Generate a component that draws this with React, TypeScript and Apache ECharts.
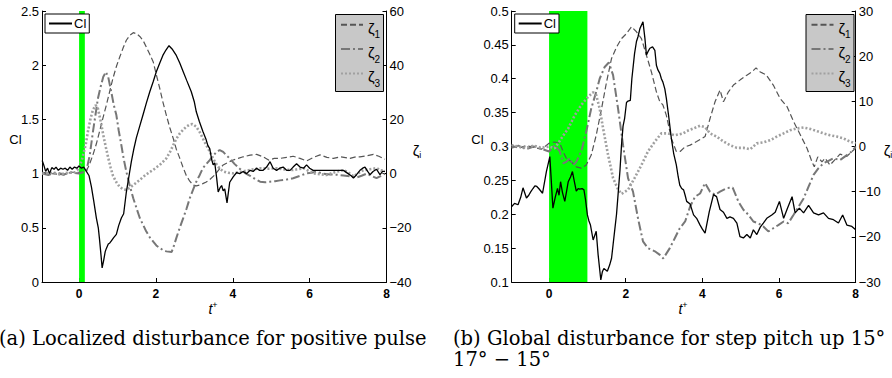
import React, { useEffect, useRef } from "react";
import * as echarts from "echarts";

// ---------- data: panel (a) ----------
const leftCl: number[][] = [[-0.96,1.12],[-0.92,1.08],[-0.87,1.02],[-0.82,1.05],[-0.77,1.0],[-0.71,1.055],[-0.65,1.04],[-0.6,1.06],[-0.54,1.03],[-0.48,1.05],[-0.42,1.04],[-0.36,1.05],[-0.3,1.03],[-0.24,1.06],[-0.18,1.04],[-0.12,1.06],[-0.06,1.05],[0.0,1.07],[0.06,1.05],[0.12,1.06],[0.19,1.02],[0.26,0.98],[0.32,0.88],[0.38,0.75],[0.45,0.59],[0.5,0.5],[0.53,0.40],[0.57,0.25],[0.6,0.13],[0.64,0.2],[0.68,0.28],[0.71,0.31],[0.76,0.35],[0.8,0.36],[0.84,0.38],[0.9,0.41],[0.97,0.44],[1.03,0.52],[1.1,0.59],[1.16,0.63],[1.23,0.83],[1.3,0.98],[1.36,1.11],[1.42,1.22],[1.49,1.33],[1.58,1.44],[1.67,1.55],[1.75,1.65],[1.84,1.755],[1.93,1.85],[2.01,1.94],[2.1,2.02],[2.18,2.09],[2.26,2.14],[2.34,2.18],[2.42,2.15],[2.53,2.09],[2.62,2.02],[2.71,1.94],[2.8,1.86],[2.92,1.755],[3.0,1.66],[3.05,1.57],[3.13,1.48],[3.22,1.39],[3.3,1.32],[3.35,1.26],[3.4,1.23],[3.45,1.13],[3.49,1.08],[3.53,1.1],[3.58,0.96],[3.62,0.83],[3.67,0.87],[3.71,0.89],[3.75,0.84],[3.79,0.86],[3.85,0.73],[3.92,0.92],[4.01,0.97],[4.1,1.01],[4.18,1.0],[4.27,1.02],[4.36,1.0],[4.45,1.03],[4.53,1.02],[4.62,1.05],[4.7,1.03],[4.79,1.03],[4.88,1.06],[4.97,1.11],[5.05,1.05],[5.14,1.03],[5.22,1.05],[5.31,1.06],[5.4,1.03],[5.49,1.03],[5.57,1.06],[5.66,1.09],[5.75,1.06],[5.84,1.05],[5.92,1.08],[6.0,1.05],[6.09,1.03],[6.18,1.03],[6.27,1.03],[6.4,1.03],[6.53,1.03],[6.7,1.03],[6.88,1.03],[7.0,1.0],[7.08,0.98],[7.14,0.96],[7.22,0.99],[7.31,1.03],[7.38,1.05],[7.44,1.06],[7.51,1.02],[7.57,0.99],[7.65,1.02],[7.74,1.04],[7.83,0.99],[7.9,1.02],[7.96,1.02]];
const leftZ1: number[][] = [[-0.96,0.5],[-0.7,0],[-0.4,-0.5],[-0.2,0.5],[0,0.5],[0.17,0.5],[0.26,3],[0.36,6.9],[0.45,11],[0.53,15.4],[0.62,20.5],[0.71,25.3],[0.8,30.5],[0.88,35.1],[0.97,39.5],[1.06,43.1],[1.15,46.5],[1.23,49.2],[1.32,51],[1.41,52],[1.5,51.6],[1.58,50.6],[1.67,49],[1.75,46.7],[1.84,44],[1.93,41.2],[2.01,36.5],[2.1,31.4],[2.18,26.5],[2.27,21.6],[2.36,17],[2.45,13],[2.53,9],[2.62,5.7],[2.7,2.5],[2.79,-0.7],[2.88,-2.8],[2.97,-4.2],[3.05,-4.5],[3.14,-4.2],[3.22,-3.7],[3.31,-3.1],[3.4,-2.2],[3.53,-0.5],[3.64,1.5],[3.75,3.2],[3.88,4.2],[4.01,5.0],[4.14,5.6],[4.27,6.2],[4.45,6.8],[4.62,7.1],[4.79,6.2],[4.93,5.0],[5.08,5.6],[5.23,5.6],[5.4,6.0],[5.57,6.4],[5.75,5.6],[5.92,4.7],[6.1,6.0],[6.27,6.9],[6.45,6.0],[6.62,5.6],[6.8,6.2],[7.05,5.6],[7.2,6.2],[7.31,6.2],[7.5,6.6],[7.66,7.1],[7.8,6.4],[7.96,5.3]];
const leftZ2: number[][] = [[-0.96,0],[-0.8,-0.5],[-0.6,0.5],[-0.4,-0.3],[-0.2,0.4],[0,0],[0.1,0.5],[0.19,1],[0.28,7],[0.36,15.4],[0.43,22],[0.49,27.7],[0.56,32],[0.63,35.7],[0.7,37.5],[0.76,35.5],[0.84,30],[0.9,25.5],[0.97,21.6],[1.03,16],[1.1,10.5],[1.16,5.5],[1.23,0.7],[1.32,-4.5],[1.41,-9.1],[1.5,-13],[1.58,-16.4],[1.67,-19],[1.75,-21.4],[1.84,-23.5],[1.93,-25.1],[2.01,-26.5],[2.1,-27.5],[2.18,-28.2],[2.27,-28.7],[2.41,-28.9],[2.47,-26.5],[2.53,-23.8],[2.62,-20],[2.71,-16.4],[2.8,-12.8],[2.88,-9.1],[2.97,-5.8],[3.05,-3.0],[3.14,-0.5],[3.22,2.0],[3.31,3.5],[3.4,5.0],[3.5,6.8],[3.58,8],[3.66,8.7],[3.75,8.0],[3.83,6.8],[3.92,5.6],[4.05,3.5],[4.18,1.8],[4.32,0.2],[4.45,-0.8],[4.58,-2.0],[4.71,-3.0],[4.84,-3.2],[4.97,-3.0],[5.1,-2.8],[5.23,-2.5],[5.4,-2.2],[5.57,-1.7],[5.75,-0.8],[5.92,0.1],[6.05,0.3],[6.18,0.7],[6.35,0],[6.53,-0.3],[6.7,-0.4],[6.88,-0.7],[7.05,-1.0],[7.23,-1.4],[7.35,-0.8],[7.49,0],[7.6,-0.8],[7.74,-1.7],[7.86,-0.8],[7.96,0]];
const leftZ3: number[][] = [[-0.96,0],[-0.7,0.3],[-0.5,-0.3],[-0.3,0.3],[-0.1,0.5],[0,2],[0.08,5.5],[0.17,10.5],[0.23,15.5],[0.3,20.4],[0.36,23.5],[0.43,25.3],[0.49,24],[0.56,19.5],[0.63,14.2],[0.7,9.5],[0.76,5.7],[0.82,2.3],[0.88,-0.7],[0.97,-3.2],[1.06,-5.0],[1.15,-5.8],[1.23,-6.0],[1.32,-5.2],[1.41,-4.2],[1.5,-3.2],[1.58,-2.3],[1.67,-1.2],[1.75,-0.3],[1.84,0.6],[1.93,1.4],[2.01,2.3],[2.1,3.2],[2.18,4.3],[2.27,5.6],[2.36,7.8],[2.45,10.5],[2.53,12.8],[2.62,14.8],[2.71,16.2],[2.79,17.3],[2.88,18.1],[2.95,18.3],[3.05,17.3],[3.14,15.3],[3.22,13],[3.31,10.5],[3.4,8.1],[3.48,5.8],[3.55,4.0],[3.65,2.0],[3.75,0.8],[3.88,0.3],[4.01,0.1],[4.15,0.5],[4.27,0.8],[4.5,1.5],[4.71,2.0],[4.95,1.8],[5.14,2.0],[5.35,1.5],[5.57,1.3],[5.84,2.0],[6.09,0.1],[6.27,-0.2],[6.44,-0.5],[6.65,0.5],[6.88,1.3],[7.0,0.5],[7.14,-1.0],[7.25,0],[7.4,1.3],[7.57,1.6],[7.74,2.0],[7.85,1.2],[7.96,1.0]];
const leftBand: number[] = [0, 0.15];

// ---------- data: panel (b) ----------
const rightCl: number[][] = [[-0.98,0.211],[-0.9,0.216],[-0.81,0.214],[-0.74,0.225],[-0.68,0.239],[-0.59,0.224],[-0.53,0.228],[-0.48,0.233],[-0.42,0.238],[-0.37,0.242],[-0.32,0.241],[-0.27,0.238],[-0.17,0.231],[-0.07,0.263],[0.02,0.285],[0.1,0.209],[0.16,0.225],[0.22,0.238],[0.26,0.228],[0.3,0.248],[0.35,0.232],[0.41,0.219],[0.46,0.235],[0.5,0.248],[0.56,0.255],[0.61,0.263],[0.66,0.248],[0.71,0.234],[0.76,0.238],[0.8,0.237],[0.86,0.238],[0.91,0.236],[0.95,0.222],[1.0,0.199],[1.04,0.19],[1.08,0.184],[1.15,0.162],[1.23,0.175],[1.28,0.14],[1.35,0.103],[1.39,0.115],[1.43,0.12],[1.52,0.116],[1.58,0.125],[1.63,0.135],[1.67,0.155],[1.71,0.175],[1.76,0.2],[1.8,0.229],[1.85,0.265],[1.89,0.302],[1.93,0.33],[1.97,0.341],[2.02,0.365],[2.06,0.367],[2.12,0.368],[2.16,0.4],[2.23,0.437],[2.28,0.455],[2.32,0.462],[2.37,0.474],[2.45,0.484],[2.5,0.46],[2.54,0.435],[2.58,0.44],[2.63,0.445],[2.7,0.447],[2.76,0.442],[2.8,0.42],[2.84,0.413],[2.89,0.408],[2.93,0.4],[2.97,0.395],[3.02,0.385],[3.06,0.371],[3.12,0.345],[3.19,0.312],[3.25,0.29],[3.32,0.273],[3.37,0.255],[3.41,0.243],[3.46,0.238],[3.51,0.236],[3.55,0.228],[3.59,0.219],[3.68,0.215],[3.77,0.199],[3.85,0.194],[3.94,0.184],[4.0,0.178],[4.07,0.172],[4.18,0.204],[4.29,0.229],[4.37,0.226],[4.46,0.207],[4.55,0.203],[4.64,0.194],[4.72,0.196],[4.81,0.194],[4.9,0.187],[4.98,0.167],[5.07,0.165],[5.16,0.17],[5.25,0.165],[5.33,0.177],[5.42,0.17],[5.51,0.181],[5.59,0.187],[5.68,0.194],[5.81,0.199],[5.9,0.203],[6.01,0.219],[6.12,0.194],[6.22,0.209],[6.34,0.226],[6.42,0.202],[6.53,0.209],[6.64,0.202],[6.77,0.213],[6.9,0.202],[7.03,0.199],[7.16,0.202],[7.29,0.194],[7.42,0.192],[7.55,0.187],[7.66,0.199],[7.77,0.184],[7.9,0.182],[8.0,0.177]];
const rightZ1: number[][] = [[-0.98,0.3],[-0.8,-0.4],[-0.6,0.2],[-0.4,-0.2],[-0.2,-0.6],[0,0.7],[0.15,1.0],[0.28,0.7],[0.37,-1.2],[0.45,-2.6],[0.58,-3.4],[0.71,-4.5],[0.84,-4.8],[0.97,-4.1],[1.1,-1.9],[1.23,2.5],[1.37,8.4],[1.5,14.3],[1.63,19.5],[1.76,22.0],[1.89,23.9],[2.02,25.0],[2.15,26.5],[2.28,25.4],[2.41,23.9],[2.54,20.2],[2.67,16.5],[2.8,12.1],[2.89,9.9],[2.97,9.2],[3.06,6.9],[3.19,1.8],[3.32,-1.1],[3.42,-1.1],[3.55,-0.05],[3.68,0.3],[3.85,1.1],[4.07,2.2],[4.2,6.2],[4.33,9.9],[4.46,12.5],[4.55,9.9],[4.68,12.1],[4.81,13.6],[4.98,14.7],[5.16,15.8],[5.29,16.5],[5.4,17.4],[5.51,16.5],[5.66,15.9],[5.85,13.6],[6.03,10.6],[6.21,8.8],[6.38,5.5],[6.56,2.5],[6.73,-0.4],[6.86,-3.4],[6.92,-4.5],[7.01,-2.3],[7.12,-3.4],[7.2,-2.6],[7.33,-4.1],[7.46,-2.9],[7.59,-1.7],[7.77,-2.2],[7.9,-1.1],[8.0,-0.4]];
const rightZ2: number[][] = [[-0.98,-0.3],[-0.8,0.2],[-0.6,-0.6],[-0.4,0],[-0.2,-0.5],[0,-1.1],[0.15,0.3],[0.28,-1.1],[0.37,-3.7],[0.45,-3.4],[0.54,-2.6],[0.63,-4.1],[0.71,-3.4],[0.84,-1.1],[0.97,3.3],[1.1,8.4],[1.23,12.1],[1.32,15.0],[1.45,17.6],[1.56,18.6],[1.67,15.8],[1.8,8.4],[1.93,0.3],[2.06,-7.0],[2.19,-10],[2.32,-15.9],[2.45,-21.0],[2.58,-22.5],[2.76,-23.2],[2.89,-24.0],[2.98,-24.8],[3.15,-22.5],[3.28,-20.3],[3.41,-18.1],[3.55,-16.6],[3.68,-13.3],[3.81,-11.1],[3.94,-10.4],[4.07,-8.1],[4.2,-10.0],[4.33,-10.7],[4.46,-10],[4.64,-9.2],[4.79,-9.1],[4.94,-12.2],[5.07,-14.0],[5.2,-15.1],[5.33,-16.6],[5.46,-17.0],[5.59,-17.7],[5.72,-18.8],[5.85,-18.1],[5.98,-17.4],[6.12,-16.6],[6.24,-17.0],[6.38,-15.1],[6.51,-13.3],[6.64,-11.5],[6.77,-8.9],[6.9,-6.3],[7.03,-4.8],[7.16,-3.7],[7.29,-3.2],[7.42,-2.6],[7.59,-3.0],[7.77,-1.9],[7.9,-1.1],[8.0,0]];
const rightZ3: number[][] = [[-0.98,0.3],[-0.8,0],[-0.6,-0.3],[-0.4,0.2],[-0.2,-0.3],[0,0],[0.15,-0.4],[0.32,1.8],[0.5,4.0],[0.67,6.9],[0.84,9.2],[1.02,11.0],[1.15,12.0],[1.23,11.4],[1.32,8.4],[1.41,4.0],[1.54,-1.9],[1.67,-7.0],[1.8,-9.5],[1.89,-10.5],[2.06,-9.6],[2.23,-7.0],[2.41,-4.1],[2.58,-1.1],[2.76,1.1],[2.93,2.9],[3.1,2.9],[3.28,2.5],[3.5,2.9],[3.59,3.4],[3.77,4.0],[3.94,4.6],[4.07,4.3],[4.2,2.9],[4.37,2.2],[4.55,1.1],[4.72,0.3],[4.9,-0.3],[5.07,-0.3],[5.25,-0.6],[5.42,0.7],[5.59,0.9],[5.77,1.4],[5.94,2.2],[6.12,2.9],[6.29,3.6],[6.47,4.0],[6.64,4.2],[6.81,3.9],[6.99,3.4],[7.16,2.9],[7.33,2.5],[7.51,2.2],[7.68,1.8],[7.85,1.1],[8.0,0.7]];
const rightBand: number[] = [0, 1];

const xTicks: number[] = [0, 2, 4, 6, 8];
const captionA = "(a) Localized disturbance for positive pulse";
const captionB1 = "(b) Global disturbance for step pitch up 15° −";
const captionB2 = "17° − 15°";

const SANS = "'Liberation Sans', Arial, sans-serif";
const SERIF = "'DejaVu Serif', 'Liberation Serif', serif";

const styles = {
  cl: { color: "#000000", width: 1.3, type: "solid" as any },
  z1: { color: "#555555", width: 1.2, type: [6, 3] as any },
  z2: { color: "#777777", width: 2, type: [9, 3, 2, 3] as any },
  z3: { color: "#a0a0a0", width: 2.6, type: [2, 2] as any },
};

const fmtNum = (v: number) => {
  const n = Number(v.toFixed(3));
  return n < 0 ? "\u2212" + String(-n) : String(n);
};

function App() {
  const ref = useRef<HTMLDivElement>(null);
  useEffect(() => {
    if (!ref.current) return;
    const chart = echarts.init(ref.current, undefined, { renderer: "svg" });

    const grids = [
      { left: 42, right: 892 - 386.5, top: 11, height: 271 },
      { left: 511.7, right: 892 - 855.7, top: 11, height: 271 },
    ];
    const xMins = [-0.965, -0.975];

    const xAxis = [0, 1].map((g) => ({
      type: "value",
      gridIndex: g,
      min: xMins[g],
      max: 8,
      axisLine: { onZero: false, lineStyle: { color: "#000", width: 1 } },
      axisTick: { inside: true, length: 4, customValues: xTicks, lineStyle: { color: "#000" } },
      axisLabel: {
        customValues: xTicks,
        color: "#000",
        fontFamily: SANS,
        fontSize: 12,
        fontWeight: "bold",
        margin: 6,
      },
      splitLine: { show: false },
    }));

    const yLabel = (size: number) => ({
      color: "#000",
      fontFamily: SANS,
      fontSize: size,
      margin: 3,
      formatter: (v: number) => fmtNum(v),
    });
    const yCommon = {
      type: "value",
      axisLine: { show: true, onZero: false, lineStyle: { color: "#000", width: 1 } },
      axisTick: { show: true, inside: true, length: 4, lineStyle: { color: "#000" } },
      splitLine: { show: false },
    };
    const yAxis = [
      { ...yCommon, gridIndex: 0, position: "left", min: 0, max: 2.5, interval: 0.5, axisLabel: yLabel(13) },
      { ...yCommon, gridIndex: 0, position: "right", min: -40, max: 60, interval: 20, axisLabel: yLabel(13) },
      { ...yCommon, gridIndex: 1, position: "left", min: 0.1, max: 0.5, interval: 0.05, axisLabel: yLabel(13) },
      { ...yCommon, gridIndex: 1, position: "right", min: -30, max: 30, interval: 10, axisLabel: yLabel(13) },
    ];

    const line = (name: string, data: number[][], xi: number, yi: number, st: any, z: number) => ({
      type: "line",
      name,
      data,
      xAxisIndex: xi,
      yAxisIndex: yi,
      showSymbol: false,
      symbol: "none",
      smooth: false,
      lineStyle: { color: st.color, width: st.width, type: st.type },
      itemStyle: { color: st.color },
      z,
    });
    const band = (xi: number, yi: number, b: number[]) => ({
      type: "line",
      name: "band" + xi,
      data: [],
      xAxisIndex: xi,
      yAxisIndex: yi,
      z: 1,
      markArea: {
        silent: true,
        itemStyle: { color: "#00ff00", opacity: 1 },
        data: [[{ xAxis: b[0] }, { xAxis: b[1] }]],
      },
    });

    const series = [
      band(0, 0, leftBand),
      line("ζ1", leftZ1, 0, 1, styles.z1, 3),
      line("ζ2", leftZ2, 0, 1, styles.z2, 3),
      line("ζ3", leftZ3, 0, 1, styles.z3, 3),
      line("Cl", leftCl, 0, 0, styles.cl, 4),
      band(1, 2, rightBand),
      line("ζ1", rightZ1, 1, 3, styles.z1, 3),
      line("ζ2", rightZ2, 1, 3, styles.z2, 3),
      line("ζ3", rightZ3, 1, 3, styles.z3, 3),
      line("Cl", rightCl, 1, 2, styles.cl, 4),
    ];

    const legendZeta = (left: number) => ({
      data: ["ζ1", "ζ2", "ζ3"],
      orient: "vertical",
      left,
      top: 20,
      z: 8,
      padding: 0,
      itemWidth: 22,
      itemHeight: 12,
      itemGap: 4.5,
      selectedMode: false,
      itemStyle: { opacity: 0 },
      formatter: (n: string) => `{z|ζ}{s|${n.slice(1)}}`,
      textStyle: {
        color: "#000",
        rich: {
          z: { fontFamily: SANS, fontSize: 15, color: "#000", verticalAlign: "bottom", lineHeight: 22 },
          s: { fontFamily: SANS, fontSize: 10, color: "#000", verticalAlign: "bottom", lineHeight: 14, padding: [0, 0, -4, 0] },
        },
      },
    });
    const legendCl = (left: number) => ({
      data: ["Cl"],
      left,
      top: 14,
      z: 8,
      backgroundColor: "#fff",
      borderColor: "#000",
      borderWidth: 1,
      borderRadius: 0,
      padding: [3, 3, 3, 3],
      itemWidth: 23,
      itemHeight: 12,
      selectedMode: false,
      itemStyle: { opacity: 0 },
      textStyle: { color: "#000", fontFamily: SANS, fontSize: 13, padding: [0, 0, 0, -3] },
    });

    const legendBox = (x: number) => ({
      type: "rect",
      z: 7,
      shape: { x: x + 0.5, y: 14.5, width: 48, height: 77 },
      style: { fill: "#c8c8c8", stroke: "#000", lineWidth: 1 },
    });

    const axisNameText = (x: number, y: number, rich: string) => ({
      type: "text",
      x,
      y,
      style: {
        text: rich,
        fill: "#000",
        fontFamily: SANS,
        fontSize: 13,
        align: "center",
        verticalAlign: "middle",
        rich: {
          t: { fontFamily: SANS, fontSize: 14, fontStyle: "italic" },
          sup: { fontFamily: SANS, fontSize: 9, verticalAlign: "top", padding: [0, 0, 8, 0] },
          z: { fontFamily: SANS, fontSize: 15 },
          sub: { fontFamily: SANS, fontSize: 9, padding: [10, 0, 0, 0] },
        },
      },
    });
    const caption = (x: number, y: number, text: string) => ({
      type: "text",
      x,
      y,
      style: { text, fill: "#000", fontFamily: SERIF, fontSize: 19.5, verticalAlign: "middle" },
    });

    chart.setOption({
      animation: false,
      backgroundColor: "#fff",
      grid: grids,
      xAxis,
      yAxis,
      series,
      legend: [legendCl(45), legendZeta(340), legendCl(514.7), legendZeta(810.5)],
      graphic: [
        legendBox(335),
        legendBox(805.5),
        axisNameText(15.5, 139, "Cl"),
        axisNameText(417, 150, "{z|ζ}{sub|i}"),
        axisNameText(213, 309, "{t|t}{sup|+}"),
        axisNameText(477.5, 139, "Cl"),
        axisNameText(888, 150, "{z|ζ}{sub|i}"),
        axisNameText(683, 309, "{t|t}{sup|+}"),
        caption(-1, 338, captionA),
        caption(453, 338, captionB1),
        caption(453, 359, captionB2),
      ],
    });
    return () => chart.dispose();
  }, []);

  return (
    <div
      ref={ref}
      style={{ position: "fixed", left: 0, top: 0, width: 892, height: 378, overflow: "hidden" }}
    />
  );
}

export default App;
